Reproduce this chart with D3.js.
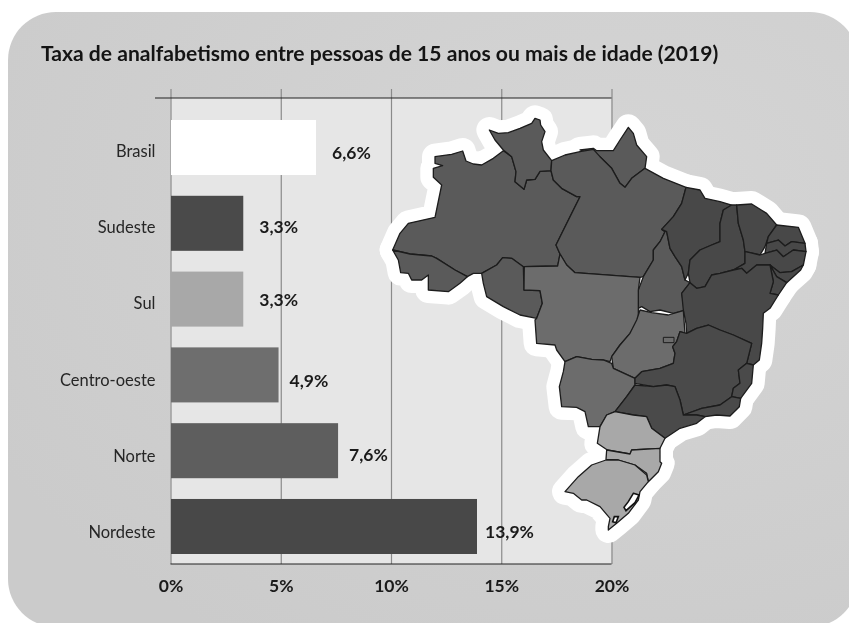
<!DOCTYPE html>
<html><head><meta charset="utf-8">
<script src="https://cdn.jsdelivr.net/npm/d3@7"></script>
<style>html,body{margin:0;background:#fff}svg{display:block;filter:blur(0.45px)}text{font-family:Lato,"Open Sans",sans-serif}</style>
</head><body><svg id="c" width="849" height="623"></svg>
<script>
const titleText = "Taxa de analfabetismo entre pessoas de 15 anos ou mais de idade (2019)";
const categories = ["Brasil","Sudeste","Sul","Centro-oeste","Norte","Nordeste"];
const values = [6.6,3.3,3.3,4.9,7.6,13.9];
const valueLabels = ["6,6%","3,3%","3,3%","4,9%","7,6%","13,9%"];
const xTicks = [0,5,10,15,20];
const regionNames = ["Norte","Nordeste","Centro-oeste","Sudeste","Sul"];
const regionFill = ["#5a5a5a","#484848","#6c6c6c","#4a4a4a","#a8a8a8"];
const barFill = ["#ffffff","#4a4a4a","#a8a8a8","#6e6e6e","#5e5e5e","#484848"];
const labelGap = [16,16,16,11,11,8];
const labelShift = [1,0,-3,2,0,2];

// State outlines, in map units
const norte = [
 [[165,170],[215,163],[248,153],[258,183],[280,192],[305,195],[340,175],[370,152],[395,170],[408,215],[405,245],[432,268],[440,240],[465,238],[480,214],[513,212],[520,240],[545,265],[590,290],[600,290],[575,340],[528,435],[540,462],[533,498],[430,500],[395,475],[368,473],[350,495],[305,520],[280,520],[262,530],[225,510],[170,475],[155,468],[90,462],[38,450],[60,400],[85,370],[165,352],[185,255],[160,232],[160,205],[188,197],[165,190]],
 [[328,90],[355,100],[385,98],[420,85],[455,70],[465,55],[480,60],[482,75],[495,95],[485,125],[490,150],[515,182],[513,212],[480,214],[465,238],[440,240],[432,268],[405,245],[408,215],[395,170],[370,150],[345,120]],
 [[38,450],[90,462],[155,468],[170,475],[225,510],[262,530],[240,550],[205,575],[145,570],[145,525],[125,540],[95,540],[85,520],[62,518],[55,480]],
 [[305,520],[350,495],[368,473],[395,475],[430,500],[432,570],[480,572],[487,610],[470,655],[420,645],[370,620],[320,590],[310,550]],
 [[600,150],[640,145],[650,152],[700,152],[720,120],[745,82],[760,100],[770,135],[800,170],[795,205],[755,235],[735,262],[720,250],[695,205],[660,170]],
 [[515,182],[555,165],[600,155],[640,148],[660,170],[695,205],[720,250],[735,262],[755,235],[795,205],[850,235],[918,262],[905,310],[880,350],[845,388],[855,395],[840,425],[820,450],[820,480],[790,530],[780,532],[585,518],[560,495],[540,462],[528,435],[600,290],[590,290],[545,265],[520,240],[513,212]],
 [[845,388],[860,395],[870,445],[885,470],[905,500],[915,540],[930,548],[905,580],[915,630],[880,640],[840,630],[810,635],[785,620],[775,625],[775,570],[790,530],[820,480],[820,450],[840,425],[855,395]]
];
const nordeste = [
 [[918,262],[960,270],[975,295],[1020,305],[1055,315],[1030,330],[1020,370],[1020,425],[995,435],[960,450],[930,480],[925,520],[915,540],[905,500],[885,470],[870,445],[860,395],[845,388],[880,350],[905,310]],
 [[1055,315],[1070,315],[1075,370],[1090,420],[1095,455],[1095,490],[1060,510],[1020,520],[995,525],[975,560],[950,565],[930,548],[925,520],[930,480],[960,450],[995,435],[1020,425],[1020,370],[1030,330]],
 [[1070,315],[1115,312],[1160,340],[1190,375],[1165,410],[1155,440],[1140,465],[1110,458],[1095,455],[1090,420],[1075,370]],
 [[1190,375],[1255,382],[1275,430],[1235,425],[1215,438],[1195,420],[1160,430],[1165,410]],
 [[1160,430],[1195,420],[1215,438],[1235,425],[1275,430],[1278,455],[1240,450],[1210,470],[1190,450],[1155,460]],
 [[1140,465],[1155,460],[1190,450],[1210,470],[1240,450],[1278,455],[1270,495],[1235,515],[1200,518],[1170,495],[1130,495],[1100,520],[1085,505],[1060,510],[1095,490],[1095,455],[1110,458]],
 [[1270,495],[1262,510],[1220,548],[1190,530],[1170,495],[1200,518],[1235,515]],
 [[1220,548],[1195,585],[1170,580],[1180,545],[1170,495],[1190,530]],
 [[930,548],[950,565],[975,560],[995,525],[1020,520],[1060,510],[1085,505],[1100,520],[1130,495],[1170,495],[1180,545],[1170,580],[1195,585],[1170,625],[1150,640],[1148,685],[1145,730],[1138,780],[1120,795],[1100,790],[1115,730],[1060,705],[1020,690],[985,675],[950,685],[920,700],[918,670],[910,630],[905,580]]
];
const centro = [
 [[433,500],[533,498],[540,462],[560,495],[585,518],[780,532],[775,570],[775,625],[775,660],[750,700],[720,735],[695,770],[690,785],[670,780],[635,778],[590,770],[555,785],[530,750],[525,735],[470,730],[465,660],[470,655],[487,610],[480,572],[432,570]],
 [[780,630],[815,638],[865,645],[910,632],[915,700],[900,695],[890,725],[878,740],[885,760],[880,790],[840,805],[785,815],[765,835],[700,805],[695,770],[720,735],[750,700],[770,660]],
 [[555,785],[590,770],[635,778],[670,780],[695,790],[700,805],[765,835],[765,855],[740,890],[705,935],[680,945],[660,980],[625,980],[615,935],[590,922],[545,920],[538,860],[550,815]]
];
const sudeste = [
 [[765,835],[785,815],[840,805],[880,790],[885,760],[878,740],[890,725],[900,695],[920,700],[950,685],[985,675],[1020,690],[1060,705],[1115,730],[1100,790],[1075,810],[1080,850],[1060,865],[1055,890],[1020,915],[965,925],[910,945],[900,900],[885,860],[860,855],[820,860],[765,850]],
 [[1100,790],[1120,795],[1115,850],[1082,895],[1055,890],[1060,865],[1080,850],[1075,810]],
 [[1055,890],[1082,895],[1078,920],[1050,948],[1010,945],[975,950],[950,945],[910,945],[965,925],[1020,915]],
 [[765,855],[820,860],[860,855],[885,860],[900,900],[910,945],[950,945],[975,950],[950,970],[900,985],[855,1015],[815,985],[800,950],[760,945],[705,935],[740,890]]
];
const sul = [
 [[680,945],[705,935],[760,945],[800,950],[815,985],[855,1015],[840,1045],[755,1050],[750,1062],[682,1050],[652,1030],[660,980]],
 [[680,1050],[750,1062],[755,1050],[840,1045],[840,1085],[845,1090],[835,1115],[805,1145],[800,1120],[765,1095],[715,1080],[678,1078]],
 [[678,1080],[715,1080],[765,1095],[800,1125],[805,1145],[780,1175],[775,1200],[745,1240],[710,1270],[685,1290],[685,1280],[690,1255],[660,1220],[620,1200],[605,1200],[580,1180],[555,1175],[595,1130],[635,1095]]
];
const lagoons = [
 [[760,1180],[777,1185],[765,1208],[738,1232],[732,1222],[745,1205]],
 [[703,1250],[715,1250],[708,1268],[698,1265]]
];
const federalDistrict = [[850,712],[882,712],[882,728],[850,728]];

const svg = d3.select("#c");

// panel
const defs = svg.append("defs");
const grad = defs.append("radialGradient").attr("id","bg").attr("cx","72%").attr("cy","30%").attr("r","85%");
grad.append("stop").attr("offset","0%").attr("stop-color","#d5d5d5");
grad.append("stop").attr("offset","100%").attr("stop-color","#cbcbcb");
svg.append("rect").attr("x",8).attr("y",12).attr("width",850).attr("height",615).attr("rx",48).attr("fill","url(#bg)");

svg.append("text").attr("x",41).attr("y",61).attr("font-size",21.1).attr("font-weight",700).attr("fill","#141414").text(titleText);

// scales
const x = d3.scaleLinear().domain([0,20]).range([170.5,611.5]);
const y = d3.scaleBand().domain(categories).range([120,554]).paddingInner(0.274);
const catY = d3.scalePoint().domain(categories).range([157,538]);
const plotTop = 98, plotBottom = 564;

svg.append("rect").attr("x",x(0)).attr("y",plotTop).attr("width",x(20)-x(0)).attr("height",plotBottom-plotTop).attr("fill","#e6e6e6");

// grid + axis
const axis = d3.axisBottom(x).tickValues(xTicks).tickFormat(d=>d+"%").tickSize(plotBottom-89).tickSizeOuter(0);
const gx = svg.append("g").attr("transform","translate(0,89)").call(axis);
gx.select(".domain").remove();
gx.selectAll("line").attr("stroke","#8a8a8a").attr("stroke-width",1.2);
gx.selectAll("text").attr("y",plotBottom-89+28).attr("dy",0).attr("font-size",17.5).attr("font-weight",700).attr("fill","#1a1a1a").attr("font-family","Lato,sans-serif");

svg.append("line").attr("x1",155).attr("x2",x(20)).attr("y1",plotTop).attr("y2",plotTop).attr("stroke","#222").attr("stroke-width",1.2);
svg.append("line").attr("x1",x(0)).attr("x2",x(20)).attr("y1",plotBottom).attr("y2",plotBottom).attr("stroke","#222").attr("stroke-width",1.2);

// bars
svg.selectAll("rect.bar").data(categories).join("rect").attr("class","bar")
  .attr("x",x(0)+0.5).attr("y",d=>y(d)).attr("height",y.bandwidth())
  .attr("width",(d,i)=>x(values[i])-x(0)-0.5).attr("fill",(d,i)=>barFill[i]);

// category labels
svg.selectAll("text.cat").data(categories).join("text").attr("class","cat")
  .attr("x",155.5).attr("y",d=>catY(d)).attr("text-anchor","end")
  .attr("font-size",16.5).attr("fill","#262626").text(d=>d);

// value labels
svg.selectAll("text.val").data(categories).join("text").attr("class","val")
  .attr("x",(d,i)=>x(values[i])+labelGap[i]).attr("y",(d,i)=>y(d)+y.bandwidth()/2+10+labelShift[i])
  .attr("font-size",17.5).attr("font-weight",700).attr("fill","#1a1a1a").text((d,i)=>valueLabels[i]);

// map
const projection = d3.geoIdentity().scale(1/3).translate([380,100]);
const geoPath = d3.geoPath(projection);
const groups = [norte,nordeste,centro,sudeste,sul];
const toFeature = (ring,r)=>({type:"Feature",properties:{region:r},geometry:{type:"Polygon",coordinates:[ring.concat([ring[0]])]}});
const features = groups.flatMap((g,r)=>g.map(ring=>toFeature(ring,regionNames[r])));
const regionColor = d3.scaleOrdinal(regionNames,regionFill);
const map = svg.append("g");
map.append("g").selectAll("path").data(features).join("path").attr("d",geoPath)
  .attr("fill","#fff").attr("stroke","#fff").attr("stroke-width",26).attr("stroke-linejoin","round");
map.append("g").selectAll("path").data(features).join("path").attr("d",geoPath)
  .attr("fill",d=>regionColor(d.properties.region)).attr("stroke","#1c1c1c").attr("stroke-width",1.3).attr("stroke-linejoin","round");
map.append("g").selectAll("path").data(lagoons.map(r=>toFeature(r,"lagoon"))).join("path").attr("d",geoPath)
  .attr("fill","#fff").attr("stroke","#111").attr("stroke-width",1.6);
map.append("path").datum(toFeature(federalDistrict,"df")).attr("d",geoPath).attr("fill","#6c6c6c").attr("stroke","#1c1c1c").attr("stroke-width",1);
</script></body></html>
